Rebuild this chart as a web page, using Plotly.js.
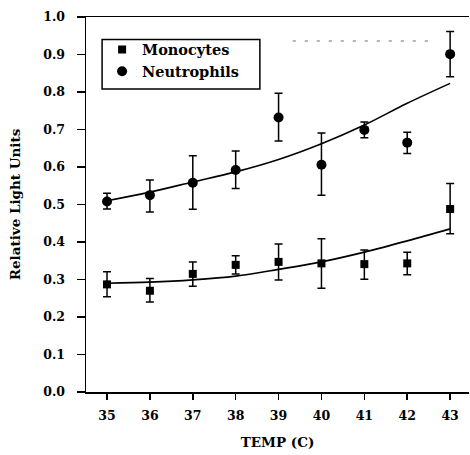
<!DOCTYPE html>
<html><head><meta charset="utf-8">
<script src="https://cdn.plot.ly/plotly-3.0.1.min.js"></script>
<style>html,body{margin:0;padding:0;background:#fff}#c{width:470px;height:455px}</style>
</head><body><div id="c"></div>
<script>
var temps = [35, 36, 37, 38, 39, 40, 41, 42, 43];
var monoMean = [0.287, 0.270, 0.315, 0.339, 0.347, 0.343, 0.341, 0.343, 0.488];
var monoErrPlus = [0.034, 0.033, 0.032, 0.024, 0.048, 0.066, 0.038, 0.030, 0.068];
var monoErrMinus = [0.033, 0.030, 0.033, 0.024, 0.048, 0.066, 0.040, 0.030, 0.066];
var neutMean = [0.508, 0.525, 0.558, 0.592, 0.732, 0.606, 0.699, 0.665, 0.901];
var neutErrPlus = [0.022, 0.040, 0.072, 0.051, 0.065, 0.085, 0.021, 0.028, 0.060];
var neutErrMinus = [0.020, 0.045, 0.071, 0.049, 0.063, 0.081, 0.021, 0.029, 0.060];
var monoFit = [0.290, 0.293, 0.299, 0.309, 0.327, 0.347, 0.373, 0.403, 0.435];
var neutFit = [0.510, 0.533, 0.560, 0.587, 0.620, 0.662, 0.712, 0.770, 0.823];
var yTicks = [0, 0.1, 0.2, 0.3, 0.4, 0.5, 0.6, 0.7, 0.8, 0.9, 1.0];
var yTickText = ["0.0","0.1","0.2","0.3","0.4","0.5","0.6","0.7","0.8","0.9","1.0"];

var F = {family: "DejaVu Serif", size: 12.5, color: "#000", weight: "bold"};
var TF = {family: "DejaVu Serif", size: 13.5, color: "#000", weight: "bold"};

var traces = [
  {x: temps, y: monoMean, type: "scatter", mode: "markers", name: "Monocytes",
   marker: {symbol: "square", size: 8, color: "#000"},
   error_y: {type: "data", symmetric: false, array: monoErrPlus, arrayminus: monoErrMinus, color: "#000", thickness: 1.5, width: 4}},
  {x: temps, y: neutMean, type: "scatter", mode: "markers", name: "Neutrophils",
   marker: {symbol: "circle", size: 10, color: "#000"},
   error_y: {type: "data", symmetric: false, array: neutErrPlus, arrayminus: neutErrMinus, color: "#000", thickness: 1.5, width: 4}},
  {x: temps, y: monoFit, type: "scatter", mode: "lines", showlegend: false, hoverinfo: "skip",
   line: {color: "#000", width: 1.6, shape: "spline"}},
  {x: temps, y: neutFit, type: "scatter", mode: "lines", showlegend: false, hoverinfo: "skip",
   line: {color: "#000", width: 1.6, shape: "spline"}}
];

var layout = {
  width: 470, height: 455,
  margin: {l: 86, r: 1, t: 17, b: 63},
  paper_bgcolor: "#fff", plot_bgcolor: "#fff",
  font: F,
  showlegend: true,
  legend: {x: 0.042, y: 0.956, xanchor: "left", yanchor: "top",
    bgcolor: "rgba(0,0,0,0)", borderwidth: 0,
    font: {family: "DejaVu Serif", size: 14.5, color: "#000", weight: "bold"},
    itemwidth: 30, tracegroupgap: 0},
  xaxis: {range: [34.51, 43.44], tickvals: temps, ticktext: temps.map(String),
    showgrid: false, zeroline: false, showline: true, linecolor: "#000", linewidth: 1.5,
    mirror: true, ticks: "outside", ticklen: 6, tickwidth: 1.5, tickcolor: "#000",
    ticklabelstandoff: 5, tickfont: F,
    title: {text: "TEMP (C)", font: TF, standoff: 16}},
  yaxis: {range: [0, 1.0], tickvals: yTicks, ticktext: yTickText,
    showgrid: false, zeroline: false, showline: true, linecolor: "#000", linewidth: 1.5,
    ticks: "outside", ticklen: 8, tickwidth: 1.5, tickcolor: "#000",
    ticklabelstandoff: 9, tickfont: F,
    title: {text: "Relative Light Units", font: TF, standoff: 19}},
  shapes: [
    {type: "rect", xref: "paper", yref: "paper", x0: 0.042, x1: 0.454, y0: 0.808, y1: 0.94,
     line: {color: "#000", width: 1.5}, fillcolor: "rgba(0,0,0,0)"},
    {type: "line", xref: "paper", yref: "paper", x0: 0.54, x1: 0.9, y0: 0.936, y1: 0.936,
     line: {color: "#666", width: 1, dash: "3px,9px"}}
  ]
};

Plotly.newPlot("c", traces, layout, {displayModeBar: false, staticPlot: true});
</script>
</body></html>
